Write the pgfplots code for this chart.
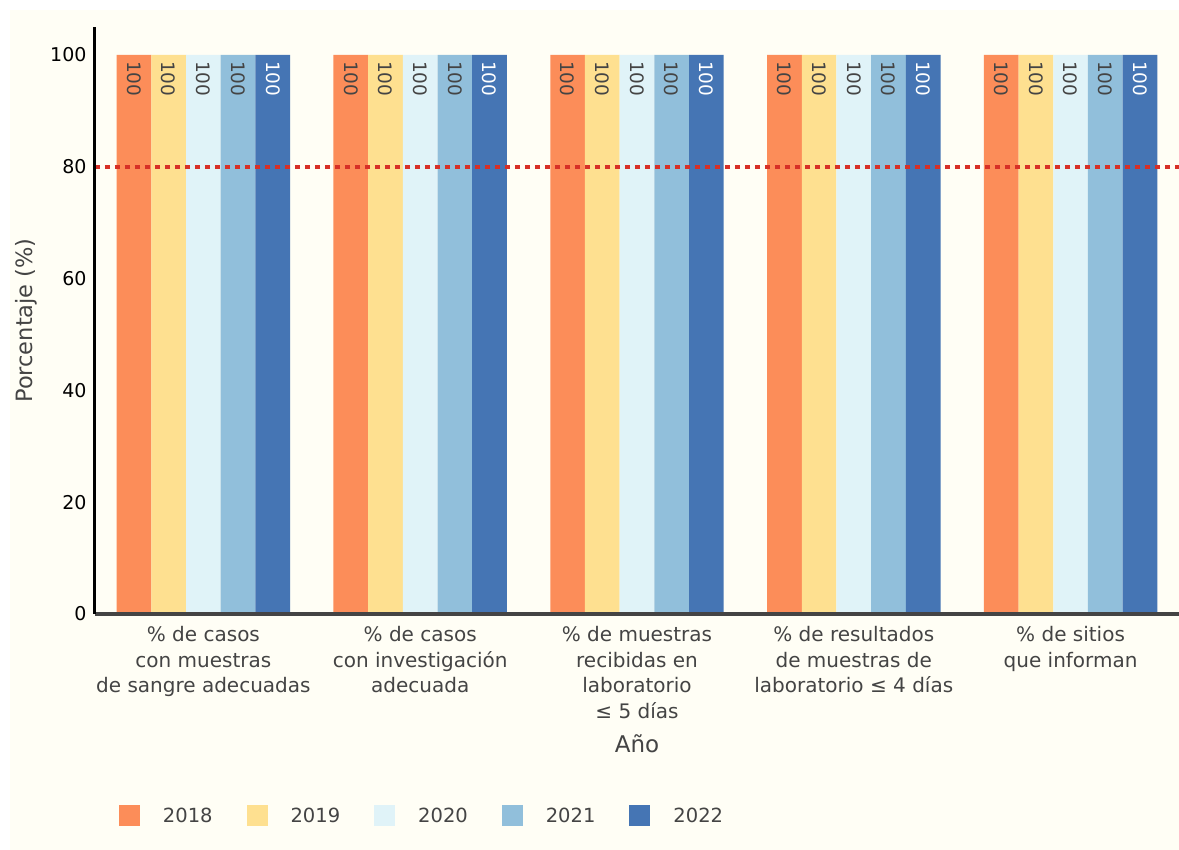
\documentclass[border=0pt]{standalone}
\usepackage{fontspec}
\setmainfont{DejaVu Sans}
\usepackage{pgfplots}
\pgfplotsset{compat=1.18}
\definecolor{cA}{HTML}{FC8D59}
\definecolor{cB}{HTML}{FEE090}
\definecolor{cC}{HTML}{E0F3F8}
\definecolor{cD}{HTML}{91BFDB}
\definecolor{cE}{HTML}{4575B4}
\definecolor{bgc}{HTML}{FFFEF5}
\definecolor{redc}{HTML}{D73027}
\definecolor{gray44}{HTML}{444444}
\pgfplotsset{
  barlab/.style={
    draw=none, fill=#1,
    legend image code/.code={\fill[##1] (0pt,-10.5pt) rectangle (21pt,10.5pt);},
    nodes near coords,
    nodes near coords style={rotate=-90, anchor=west, inner xsep=6pt,
      font=\fontsize{18.5}{20}\selectfont, text=gray44},
  }
}
\begin{document}
\begin{tikzpicture}
\useasboundingbox (0,0) rectangle (1179pt,850pt);
\fill[white] (0,0) rectangle (1179pt,850pt);
\fill[bgc] (10pt,0) rectangle (1179pt,840pt);
\begin{axis}[
  at={(95pt,236pt)}, anchor=south west,
  scale only axis, width=1084pt, height=587pt,
  xmin=-0.5, xmax=4.5, ymin=0, ymax=105,
  ybar, bar width=0.16,
  axis on top,
  axis lines=left,
  x axis line style={draw=gray44, line width=4pt, -},
  y axis line style={draw=black, line width=3pt, -},
  major tick length=0pt,
  xtick={0,1,2,3,4},
  xticklabels={{\% de casos\\con muestras\\de sangre adecuadas},
               {\% de casos\\con investigación\\adecuada},
               {\% de muestras\\recibidas en\\laboratorio\\≤ 5 días},
               {\% de resultados\\de muestras de\\laboratorio ≤ 4 días},
               {\% de sitios\\que informan}},
  xticklabel style={align=center, font=\fontsize{20}{25.5}\selectfont, text=gray44, yshift=-9pt},
  ytick={0,20,40,60,80,100},
  yticklabel style={font=\fontsize{19}{20}\selectfont, text=black, xshift=-5pt},
  /pgf/number format/assume math mode=true,
  xlabel={Año}, ylabel={Porcentaje (\%)},
  every axis x label/.style={at={(axis description cs:0.5,0)}, anchor=base, yshift=-139pt,
     font=\fontsize{23}{26}\selectfont, text=gray44},
  every axis y label/.style={at={(axis description cs:0,0.5)}, xshift=-62pt, rotate=90, anchor=base,
     font=\fontsize{22.5}{26}\selectfont, text=gray44},
  legend columns=5,
  legend cell align=left,
  legend style={at={(axis description cs:0.0221,-0.3433)}, anchor=west, draw=none, fill=none,
     inner sep=0pt, outer sep=0pt, font=\fontsize{19.5}{22}\selectfont, text=gray44,
     nodes={inner sep=0pt},
     /tikz/every odd column/.append style={column sep=23pt},
     /tikz/every even column/.append style={column sep=34pt}},
]
\addplot[barlab=cA, bar shift=-0.32] coordinates {(0,100) (1,100) (2,100) (3,100) (4,100)};
\addlegendentry{2018}
\addplot[barlab=cB, bar shift=-0.16] coordinates {(0,100) (1,100) (2,100) (3,100) (4,100)};
\addlegendentry{2019}
\addplot[barlab=cC, bar shift=0] coordinates {(0,100) (1,100) (2,100) (3,100) (4,100)};
\addlegendentry{2020}
\addplot[barlab=cD, bar shift=0.16] coordinates {(0,100) (1,100) (2,100) (3,100) (4,100)};
\addlegendentry{2021}
\addplot[barlab=cE, bar shift=0.32, nodes near coords style={text=white}] coordinates {(0,100) (1,100) (2,100) (3,100) (4,100)};
\addlegendentry{2022}
\addplot[forget plot, sharp plot, draw=redc, line width=3.5pt, dash pattern=on 5pt off 5pt] coordinates {(-0.5,80) (4.5,80)};
\end{axis}
\end{tikzpicture}
\end{document}
